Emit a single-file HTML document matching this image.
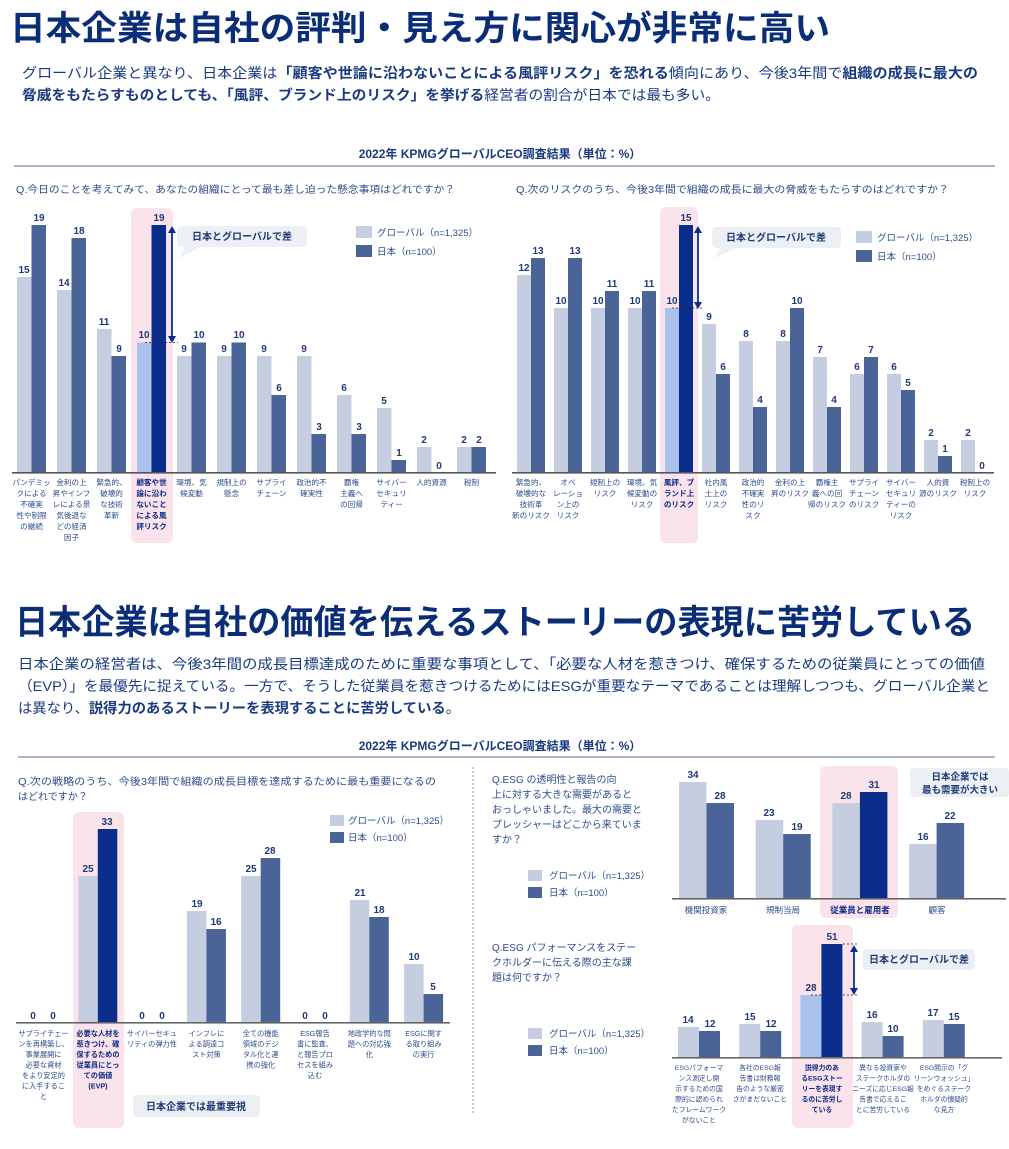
<!DOCTYPE html>
<html><head><meta charset="utf-8"><style>
html,body{margin:0;padding:0;background:#fff}
svg{display:block}
text{font-family:"Liberation Sans","Noto Sans CJK JP",sans-serif;fill:#1f3a78}
.v{font-size:10px;font-weight:bold;text-anchor:middle;fill:#1f3a78}
.l{font-size:7.6px;text-anchor:middle;fill:#2d4c8c}
.lb{font-size:7.6px;text-anchor:middle;fill:#0b2a86;font-weight:bold}
.g{fill:#c5cee0}.j{fill:#4a6498}.hg{fill:#a9c3ee}.hj{fill:#0b2d8c}
.q{font-size:10px;fill:#2d4c8c}
.lg{font-size:9.5px;fill:#2d4c8c}
.co{font-size:10px;font-weight:bold;fill:#1f3a78;text-anchor:middle}
</style></head><body>
<svg width="1009" height="1149" viewBox="0 0 1009 1149" xmlns="http://www.w3.org/2000/svg">
<!-- Title 1 -->
<text x="10" y="40" font-size="34" font-weight="bold" style="fill:#0a2d78" textLength="820" lengthAdjust="spacingAndGlyphs">日本企業は自社の評判・見え方に関心が非常に高い</text>
<text x="22" y="78" font-size="14" style="fill:#1a3a80" textLength="956" lengthAdjust="spacingAndGlyphs">グローバル企業と異なり、日本企業は<tspan font-weight="bold">「顧客や世論に沿わないことによる風評リスク」を恐れる</tspan>傾向にあり、今後3年間で<tspan font-weight="bold">組織の成長に最大の</tspan></text>
<text x="22" y="100" font-size="14" style="fill:#1a3a80" textLength="698" lengthAdjust="spacingAndGlyphs"><tspan font-weight="bold">脅威をもたらすものとしても、「風評、ブランド上のリスク」を挙げる</tspan>経営者の割合が日本では最も多い。</text>

<text x="500" y="158" font-size="12" font-weight="bold" text-anchor="middle" style="fill:#1a3a80">2022年 KPMGグローバルCEO調査結果（単位：%）</text>
<rect x="14" y="165" width="981" height="2" fill="#a9b5cd"/>

<!-- Chart 1 -->
<text x="16" y="193" class="q" textLength="439" lengthAdjust="spacingAndGlyphs">Q.今日のことを考えてみて、あなたの組織にとって最も差し迫った懸念事項はどれですか？</text>
<rect x="131" y="208" width="42" height="335" rx="6" fill="#fbe3ec"/>
<rect x="17" y="277" width="14.5" height="196" class="g"/><rect x="31.5" y="225" width="14.5" height="248" class="j"/>
<rect x="57" y="290" width="14.5" height="183" class="g"/><rect x="71.5" y="238" width="14.5" height="235" class="j"/>
<rect x="97" y="329" width="14.5" height="144" class="g"/><rect x="111.5" y="356" width="14.5" height="117" class="j"/>
<rect x="137" y="342.5" width="14.5" height="130.5" class="hg"/><rect x="151.5" y="225" width="14.5" height="248" class="hj"/>
<rect x="177" y="356" width="14.5" height="117" class="g"/><rect x="191.5" y="342.5" width="14.5" height="130.5" class="j"/>
<rect x="217" y="356" width="14.5" height="117" class="g"/><rect x="231.5" y="342.5" width="14.5" height="130.5" class="j"/>
<rect x="257" y="356" width="14.5" height="117" class="g"/><rect x="271.5" y="395" width="14.5" height="78" class="j"/>
<rect x="297" y="356" width="14.5" height="117" class="g"/><rect x="311.5" y="434" width="14.5" height="39" class="j"/>
<rect x="337" y="395" width="14.5" height="78" class="g"/><rect x="351.5" y="434" width="14.5" height="39" class="j"/>
<rect x="377" y="408" width="14.5" height="65" class="g"/><rect x="391.5" y="460" width="14.5" height="13" class="j"/>
<rect x="417" y="447" width="14.5" height="26" class="g"/>
<rect x="457" y="447" width="14.5" height="26" class="g"/><rect x="471.5" y="447" width="14.5" height="26" class="j"/>
<rect x="12" y="472" width="484" height="1.6" fill="#555"/>
<g>
<text class="v" x="24" y="273">15</text><text class="v" x="39" y="221">19</text>
<text class="v" x="64" y="286">14</text><text class="v" x="79" y="234">18</text>
<text class="v" x="104" y="325">11</text><text class="v" x="119" y="352">9</text>
<text class="v" x="144" y="338">10</text><text class="v" x="159" y="221">19</text>
<text class="v" x="184" y="352">9</text><text class="v" x="199" y="338">10</text>
<text class="v" x="224" y="352">9</text><text class="v" x="239" y="338">10</text>
<text class="v" x="264" y="352">9</text><text class="v" x="279" y="391">6</text>
<text class="v" x="304" y="352">9</text><text class="v" x="319" y="430">3</text>
<text class="v" x="344" y="391">6</text><text class="v" x="359" y="430">3</text>
<text class="v" x="384" y="404">5</text><text class="v" x="399" y="456">1</text>
<text class="v" x="424" y="443">2</text><text class="v" x="439" y="469">0</text>
<text class="v" x="464" y="443">2</text><text class="v" x="479" y="443">2</text>
</g>
<line x1="145" y1="342.5" x2="178" y2="342.5" stroke="#222" stroke-dasharray="2,2" stroke-width="0.8"/>
<line x1="172" y1="228" x2="172" y2="340" stroke="#0b2d8c" stroke-width="1.8"/>
<polygon points="168,233 172,226 176,233" fill="#0b2d8c"/><polygon points="168,336 172,343 176,336" fill="#0b2d8c"/>
<rect x="177" y="226" width="130" height="21" rx="4" fill="#eceff4"/>
<polygon points="185,247 200,247 180,258" fill="#eceff4"/>
<text class="co" x="242" y="240">日本とグローバルで差</text>
<rect x="356" y="226" width="16" height="12" class="g"/><text class="lg" x="377" y="236">グローバル（n=1,325）</text>
<rect x="356" y="245" width="16" height="12" class="j"/><text class="lg" x="377" y="255">日本（n=100）</text>
<g>
<text class="l" y="485"><tspan x="31.5">パンデミッ</tspan><tspan x="31.5" dy="11">クによる</tspan><tspan x="31.5" dy="11">不確実</tspan><tspan x="31.5" dy="11">性や制限</tspan><tspan x="31.5" dy="11">の継続</tspan></text>
<text class="l" y="485"><tspan x="71.5">金利の上</tspan><tspan x="71.5" dy="11">昇やインフ</tspan><tspan x="71.5" dy="11">レによる景</tspan><tspan x="71.5" dy="11">気後退な</tspan><tspan x="71.5" dy="11">どの経済</tspan><tspan x="71.5" dy="11">因子</tspan></text>
<text class="l" y="485"><tspan x="111.5">緊急的、</tspan><tspan x="111.5" dy="11">破壊的</tspan><tspan x="111.5" dy="11">な技術</tspan><tspan x="111.5" dy="11">革新</tspan></text>
<text class="lb" y="485"><tspan x="151.5">顧客や世</tspan><tspan x="151.5" dy="11">論に沿わ</tspan><tspan x="151.5" dy="11">ないこと</tspan><tspan x="151.5" dy="11">による風</tspan><tspan x="151.5" dy="11">評リスク</tspan></text>
<text class="l" y="485"><tspan x="191.5">環境、気</tspan><tspan x="191.5" dy="11">候変動</tspan></text>
<text class="l" y="485"><tspan x="231.5">規制上の</tspan><tspan x="231.5" dy="11">懸念</tspan></text>
<text class="l" y="485"><tspan x="271.5">サプライ</tspan><tspan x="271.5" dy="11">チェーン</tspan></text>
<text class="l" y="485"><tspan x="311.5">政治的不</tspan><tspan x="311.5" dy="11">確実性</tspan></text>
<text class="l" y="485"><tspan x="351.5">覇権</tspan><tspan x="351.5" dy="11">主義へ</tspan><tspan x="351.5" dy="11">の回帰</tspan></text>
<text class="l" y="485"><tspan x="391.5">サイバー</tspan><tspan x="391.5" dy="11">セキュリ</tspan><tspan x="391.5" dy="11">ティー</tspan></text>
<text class="l" y="485"><tspan x="431.5">人的資源</tspan></text>
<text class="l" y="485"><tspan x="471.5">税制</tspan></text>
</g>

<!-- Chart 2 -->
<text x="516" y="193" class="q" textLength="433" lengthAdjust="spacingAndGlyphs">Q.次のリスクのうち、今後3年間で組織の成長に最大の脅威をもたらすのはどれですか？</text>
<rect x="660" y="207" width="38" height="336" rx="6" fill="#fbe3ec"/>
<rect x="517" y="275" width="14" height="198" class="g"/><rect x="531" y="258" width="14" height="215" class="j"/>
<rect x="554" y="308" width="14" height="165" class="g"/><rect x="568" y="258" width="14" height="215" class="j"/>
<rect x="591" y="308" width="14" height="165" class="g"/><rect x="605" y="291" width="14" height="182" class="j"/>
<rect x="628" y="308" width="14" height="165" class="g"/><rect x="642" y="291" width="14" height="182" class="j"/>
<rect x="665" y="308" width="14" height="165" class="hg"/><rect x="679" y="225" width="14" height="248" class="hj"/>
<rect x="702" y="324" width="14" height="149" class="g"/><rect x="716" y="374" width="14" height="99" class="j"/>
<rect x="739" y="341" width="14" height="132" class="g"/><rect x="753" y="407" width="14" height="66" class="j"/>
<rect x="776" y="341" width="14" height="132" class="g"/><rect x="790" y="308" width="14" height="165" class="j"/>
<rect x="813" y="357" width="14" height="116" class="g"/><rect x="827" y="407" width="14" height="66" class="j"/>
<rect x="850" y="374" width="14" height="99" class="g"/><rect x="864" y="357" width="14" height="116" class="j"/>
<rect x="887" y="374" width="14" height="99" class="g"/><rect x="901" y="390" width="14" height="83" class="j"/>
<rect x="924" y="440" width="14" height="33" class="g"/><rect x="938" y="456" width="14" height="17" class="j"/>
<rect x="961" y="440" width="14" height="33" class="g"/>
<rect x="512" y="472" width="482" height="1.6" fill="#555"/>
<g>
<text class="v" x="524" y="271">12</text><text class="v" x="538" y="254">13</text>
<text class="v" x="561" y="304">10</text><text class="v" x="575" y="254">13</text>
<text class="v" x="598" y="304">10</text><text class="v" x="612" y="287">11</text>
<text class="v" x="635" y="304">10</text><text class="v" x="649" y="287">11</text>
<text class="v" x="672" y="304">10</text><text class="v" x="686" y="221">15</text>
<text class="v" x="709" y="320">9</text><text class="v" x="723" y="370">6</text>
<text class="v" x="746" y="337">8</text><text class="v" x="760" y="403">4</text>
<text class="v" x="783" y="337">8</text><text class="v" x="797" y="304">10</text>
<text class="v" x="820" y="353">7</text><text class="v" x="834" y="403">4</text>
<text class="v" x="857" y="370">6</text><text class="v" x="871" y="353">7</text>
<text class="v" x="894" y="370">6</text><text class="v" x="908" y="386">5</text>
<text class="v" x="931" y="436">2</text><text class="v" x="945" y="452">1</text>
<text class="v" x="968" y="436">2</text><text class="v" x="982" y="469">0</text>
</g>
<line x1="672" y1="308" x2="702" y2="308" stroke="#222" stroke-dasharray="2,2" stroke-width="0.8"/>
<line x1="698" y1="228" x2="698" y2="305" stroke="#0b2d8c" stroke-width="1.8"/>
<polygon points="694,233 698,226 702,233" fill="#0b2d8c"/><polygon points="694,302 698,309 702,302" fill="#0b2d8c"/>
<rect x="712" y="227" width="129" height="21" rx="4" fill="#eceff4"/>
<polygon points="720,248 735,248 715,258" fill="#eceff4"/>
<text class="co" x="776" y="241">日本とグローバルで差</text>
<rect x="856" y="231" width="16" height="12" class="g"/><text class="lg" x="877" y="241">グローバル（n=1,325）</text>
<rect x="856" y="250" width="16" height="12" class="j"/><text class="lg" x="877" y="260">日本（n=100）</text>
<g>
<text class="l" y="485"><tspan x="531">緊急的、</tspan><tspan x="531" dy="11">破壊的な</tspan><tspan x="531" dy="11">技術革</tspan><tspan x="531" dy="11">新のリスク</tspan></text>
<text class="l" y="485"><tspan x="568">オペ</tspan><tspan x="568" dy="11">レーショ</tspan><tspan x="568" dy="11">ン上の</tspan><tspan x="568" dy="11">リスク</tspan></text>
<text class="l" y="485"><tspan x="605">規制上の</tspan><tspan x="605" dy="11">リスク</tspan></text>
<text class="l" y="485"><tspan x="642">環境、気</tspan><tspan x="642" dy="11">候変動の</tspan><tspan x="642" dy="11">リスク</tspan></text>
<text class="lb" y="485"><tspan x="679">風評、ブ</tspan><tspan x="679" dy="11">ランド上</tspan><tspan x="679" dy="11">のリスク</tspan></text>
<text class="l" y="485"><tspan x="716">社内風</tspan><tspan x="716" dy="11">土上の</tspan><tspan x="716" dy="11">リスク</tspan></text>
<text class="l" y="485"><tspan x="753">政治的</tspan><tspan x="753" dy="11">不確実</tspan><tspan x="753" dy="11">性のリ</tspan><tspan x="753" dy="11">スク</tspan></text>
<text class="l" y="485"><tspan x="790">金利の上</tspan><tspan x="790" dy="11">昇のリスク</tspan></text>
<text class="l" y="485"><tspan x="827">覇権主</tspan><tspan x="827" dy="11">義への回</tspan><tspan x="827" dy="11">帰のリスク</tspan></text>
<text class="l" y="485"><tspan x="864">サプライ</tspan><tspan x="864" dy="11">チェーン</tspan><tspan x="864" dy="11">のリスク</tspan></text>
<text class="l" y="485"><tspan x="901">サイバー</tspan><tspan x="901" dy="11">セキュリ</tspan><tspan x="901" dy="11">ティーの</tspan><tspan x="901" dy="11">リスク</tspan></text>
<text class="l" y="485"><tspan x="938">人的資</tspan><tspan x="938" dy="11">源のリスク</tspan></text>
<text class="l" y="485"><tspan x="975">税制上の</tspan><tspan x="975" dy="11">リスク</tspan></text>
</g>

<!-- Title 2 -->
<text x="15" y="634" font-size="34" font-weight="bold" style="fill:#0a2d78" textLength="960" lengthAdjust="spacingAndGlyphs">日本企業は自社の価値を伝えるストーリーの表現に苦労している</text>
<text x="18" y="669" font-size="14" style="fill:#1a3a80" textLength="967" lengthAdjust="spacingAndGlyphs">日本企業の経営者は、今後3年間の成長目標達成のために重要な事項として、「必要な人材を惹きつけ、確保するための従業員にとっての価値</text>
<text x="18" y="691" font-size="14" style="fill:#1a3a80" textLength="972" lengthAdjust="spacingAndGlyphs">（EVP）」を最優先に捉えている。一方で、そうした従業員を惹きつけるためにはESGが重要なテーマであることは理解しつつも、グローバル企業と</text>
<text x="18" y="713" font-size="14" style="fill:#1a3a80" textLength="442" lengthAdjust="spacingAndGlyphs">は異なり、<tspan font-weight="bold">説得力のあるストーリーを表現することに苦労している</tspan>。</text>

<text x="500" y="750" font-size="12" font-weight="bold" text-anchor="middle" style="fill:#1a3a80">2022年 KPMGグローバルCEO調査結果（単位：%）</text>
<rect x="18" y="756" width="977" height="2" fill="#a9b5cd"/>
<line x1="473" y1="767" x2="473" y2="1115" stroke="#8a96b0" stroke-dasharray="2,2" stroke-width="1"/>

<!-- Chart 3 -->
<text class="q" x="18" y="785" textLength="418" lengthAdjust="spacingAndGlyphs">Q.次の戦略のうち、今後3年間で組織の成長目標を達成するために最も重要になるの</text>
<text class="q" x="18" y="800">はどれですか？</text>
<rect x="73" y="812" width="51" height="316" rx="6" fill="#fbe3ec"/>
<rect x="78.3" y="876" width="19.5" height="147" class="g"/><rect x="97.8" y="829" width="19.5" height="194" class="hj"/>
<rect x="186.9" y="911" width="19.5" height="112" class="g"/><rect x="206.4" y="929" width="19.5" height="94" class="j"/>
<rect x="241.2" y="876" width="19.5" height="147" class="g"/><rect x="260.7" y="858" width="19.5" height="165" class="j"/>
<rect x="349.8" y="900" width="19.5" height="123" class="g"/><rect x="369.3" y="917" width="19.5" height="106" class="j"/>
<rect x="404.1" y="964" width="19.5" height="59" class="g"/><rect x="423.6" y="994" width="19.5" height="29" class="j"/>
<rect x="16" y="1022" width="434" height="1.6" fill="#666"/>
<g>
<text class="v" x="33" y="1019">0</text><text class="v" x="53" y="1019">0</text>
<text class="v" x="88" y="872">25</text><text class="v" x="107" y="825">33</text>
<text class="v" x="142" y="1019">0</text><text class="v" x="162" y="1019">0</text>
<text class="v" x="197" y="907">19</text><text class="v" x="216" y="925">16</text>
<text class="v" x="251" y="872">25</text><text class="v" x="270" y="854">28</text>
<text class="v" x="305" y="1019">0</text><text class="v" x="325" y="1019">0</text>
<text class="v" x="360" y="896">21</text><text class="v" x="379" y="913">18</text>
<text class="v" x="414" y="960">10</text><text class="v" x="433" y="990">5</text>
</g>
<rect x="330" y="815" width="14" height="11" class="g"/><text class="lg" x="348" y="824" font-size="8.5">グローバル（n=1,325）</text>
<rect x="330" y="832" width="14" height="11" class="j"/><text class="lg" x="348" y="841" font-size="8.5">日本（n=100）</text>
<g style="font-size:7.2px">
<text class="l" y="1036" style="font-size:7.2px"><tspan x="43.5">サプライチェー</tspan><tspan x="43.5" dy="10.5">ンを再構築し、</tspan><tspan x="43.5" dy="10.5">事業展開に</tspan><tspan x="43.5" dy="10.5">必要な資材</tspan><tspan x="43.5" dy="10.5">をより安定的</tspan><tspan x="43.5" dy="10.5">に入手するこ</tspan><tspan x="43.5" dy="10.5">と</tspan></text>
<text class="lb" y="1036" style="font-size:7.2px"><tspan x="98">必要な人材を</tspan><tspan x="98" dy="10.5">惹きつけ、確</tspan><tspan x="98" dy="10.5">保するための</tspan><tspan x="98" dy="10.5">従業員にとっ</tspan><tspan x="98" dy="10.5">ての価値</tspan><tspan x="98" dy="10.5">(EVP)</tspan></text>
<text class="l" y="1036" style="font-size:7.2px"><tspan x="152">サイバーセキュ</tspan><tspan x="152" dy="10.5">リティの弾力性</tspan></text>
<text class="l" y="1036" style="font-size:7.2px"><tspan x="206.4">インフレに</tspan><tspan x="206.4" dy="10.5">よる調達コ</tspan><tspan x="206.4" dy="10.5">スト対策</tspan></text>
<text class="l" y="1036" style="font-size:7.2px"><tspan x="260.7">全ての機能</tspan><tspan x="260.7" dy="10.5">領域のデジ</tspan><tspan x="260.7" dy="10.5">タル化と連</tspan><tspan x="260.7" dy="10.5">携の強化</tspan></text>
<text class="l" y="1036" style="font-size:7.2px"><tspan x="315">ESG報告</tspan><tspan x="315" dy="10.5">書に監査、</tspan><tspan x="315" dy="10.5">と報告プロ</tspan><tspan x="315" dy="10.5">セスを組み</tspan><tspan x="315" dy="10.5">込む</tspan></text>
<text class="l" y="1036" style="font-size:7.2px"><tspan x="369.3">地政学的な問</tspan><tspan x="369.3" dy="10.5">題への対応強</tspan><tspan x="369.3" dy="10.5">化</tspan></text>
<text class="l" y="1036" style="font-size:7.2px"><tspan x="423.6">ESGに関す</tspan><tspan x="423.6" dy="10.5">る取り組み</tspan><tspan x="423.6" dy="10.5">の実行</tspan></text>
</g>
<rect x="133" y="1095" width="127" height="22" rx="4" fill="#eceff4"/>
<text class="co" x="196" y="1110">日本企業では最重要視</text>

<!-- Chart 4 -->
<text class="q" font-size="10.5" y="783"><tspan x="492">Q.ESG の透明性と報告の向</tspan><tspan x="492" dy="15">上に対する大きな需要があると</tspan><tspan x="492" dy="15">おっしゃいました。最大の需要と</tspan><tspan x="492" dy="15">プレッシャーはどこから来ていま</tspan><tspan x="492" dy="15">すか？</tspan></text>
<rect x="528" y="870" width="14" height="11" class="g"/><text class="lg" x="549" y="879" font-size="8.5">グローバル（n=1,325）</text>
<rect x="528" y="887" width="14" height="11" class="j"/><text class="lg" x="549" y="896" font-size="8.5">日本（n=100）</text>
<rect x="820" y="766" width="78" height="152" rx="6" fill="#fbe3ec"/>
<rect x="679" y="782" width="27.5" height="117" class="g"/><rect x="706.5" y="803" width="27.5" height="96" class="j"/>
<rect x="755.7" y="820" width="27.5" height="79" class="g"/><rect x="783.2" y="834" width="27.5" height="65" class="j"/>
<rect x="832.4" y="803" width="27.5" height="96" class="g"/><rect x="859.9" y="792" width="27.5" height="107" class="hj"/>
<rect x="909.1" y="844" width="27.5" height="55" class="g"/><rect x="936.6" y="823" width="27.5" height="76" class="j"/>
<rect x="672" y="898" width="334" height="1.6" fill="#666"/>
<g>
<text class="v" x="693" y="778">34</text><text class="v" x="720" y="799">28</text>
<text class="v" x="769" y="816">23</text><text class="v" x="797" y="830">19</text>
<text class="v" x="846" y="799">28</text><text class="v" x="874" y="788">31</text>
<text class="v" x="923" y="840">16</text><text class="v" x="950" y="819">22</text>
</g>
<text class="l" x="706" y="913" style="font-size:8.5px">機関投資家</text>
<text class="l" x="783" y="913" style="font-size:8.5px">規制当局</text>
<text class="lb" x="860" y="913" style="font-size:8.5px">従業員と雇用者</text>
<text class="l" x="937" y="913" style="font-size:8.5px">顧客</text>
<rect x="910" y="768" width="99" height="29" rx="4" fill="#eceff4"/>
<text class="co" x="960" y="780" style="font-size:9.5px">日本企業では</text>
<text class="co" x="960" y="793" style="font-size:9.5px">最も需要が大きい</text>

<!-- Chart 5 -->
<text class="q" font-size="10.5" y="951"><tspan x="492">Q.ESG パフォーマンスをステー</tspan><tspan x="492" dy="15">クホルダーに伝える際の主な課</tspan><tspan x="492" dy="15">題は何ですか？</tspan></text>
<rect x="528" y="1028" width="14" height="11" class="g"/><text class="lg" x="549" y="1037" font-size="8.5">グローバル（n=1,325）</text>
<rect x="528" y="1045" width="14" height="11" class="j"/><text class="lg" x="549" y="1054" font-size="8.5">日本（n=100）</text>
<rect x="792" y="925" width="61" height="203" rx="6" fill="#fbe3ec"/>
<rect x="678" y="1027" width="21" height="31" class="g"/><rect x="699" y="1031" width="21" height="27" class="j"/>
<rect x="739.2" y="1024" width="21" height="34" class="g"/><rect x="760.2" y="1031" width="21" height="27" class="j"/>
<rect x="800.4" y="995" width="21" height="63" class="hg"/><rect x="821.4" y="944" width="21" height="114" class="hj"/>
<rect x="861.6" y="1022" width="21" height="36" class="g"/><rect x="882.6" y="1036" width="21" height="22" class="j"/>
<rect x="922.8" y="1020" width="21" height="38" class="g"/><rect x="943.8" y="1024" width="21" height="34" class="j"/>
<rect x="672" y="1057" width="330" height="1.6" fill="#666"/>
<g>
<text class="v" x="688" y="1023">14</text><text class="v" x="710" y="1027">12</text>
<text class="v" x="750" y="1020">15</text><text class="v" x="771" y="1027">12</text>
<text class="v" x="811" y="991">28</text><text class="v" x="832" y="940">51</text>
<text class="v" x="872" y="1018">16</text><text class="v" x="893" y="1032">10</text>
<text class="v" x="933" y="1016">17</text><text class="v" x="954" y="1020">15</text>
</g>
<line x1="811" y1="995" x2="858" y2="995" stroke="#222" stroke-dasharray="2,2" stroke-width="0.8"/>
<line x1="843" y1="944" x2="858" y2="944" stroke="#222" stroke-dasharray="2,2" stroke-width="0.8"/>
<line x1="854" y1="947" x2="854" y2="992" stroke="#0b2d8c" stroke-width="1.8"/>
<polygon points="850,952 854,945 858,952" fill="#0b2d8c"/><polygon points="850,988 854,995 858,988" fill="#0b2d8c"/>
<rect x="863" y="949" width="112" height="21" rx="4" fill="#eceff4"/>
<text class="co" x="919" y="963">日本とグローバルで差</text>
<g>
<text class="l" y="1070" style="font-size:6.8px"><tspan x="699">ESGパフォーマ</tspan><tspan x="699" dy="10.5">ンス測定し開</tspan><tspan x="699" dy="10.5">示するための国</tspan><tspan x="699" dy="10.5">際的に認められ</tspan><tspan x="699" dy="10.5">たフレームワーク</tspan><tspan x="699" dy="10.5">がないこと</tspan></text>
<text class="l" y="1070" style="font-size:6.8px"><tspan x="760">各社のESG報</tspan><tspan x="760" dy="10.5">告書は財務報</tspan><tspan x="760" dy="10.5">告のような厳密</tspan><tspan x="760" dy="10.5">さがまだないこと</tspan></text>
<text class="lb" y="1070" style="font-size:6.8px"><tspan x="822">説得力のあ</tspan><tspan x="822" dy="10.5">るESGストー</tspan><tspan x="822" dy="10.5">リーを表現す</tspan><tspan x="822" dy="10.5">るのに苦労し</tspan><tspan x="822" dy="10.5">ている</tspan></text>
<text class="l" y="1070" style="font-size:6.8px"><tspan x="883">異なる投資家や</tspan><tspan x="883" dy="10.5">ステークホルダの</tspan><tspan x="883" dy="10.5">ニーズに応じESG報</tspan><tspan x="883" dy="10.5">告書で応えるこ</tspan><tspan x="883" dy="10.5">とに苦労している</tspan></text>
<text class="l" y="1070" style="font-size:6.8px"><tspan x="944">ESG開示の「グ</tspan><tspan x="944" dy="10.5">リーンウォッシュ」</tspan><tspan x="944" dy="10.5">をめぐるステーク</tspan><tspan x="944" dy="10.5">ホルダの懐疑的</tspan><tspan x="944" dy="10.5">な見方</tspan></text>
</g>
</svg>
</body></html>
